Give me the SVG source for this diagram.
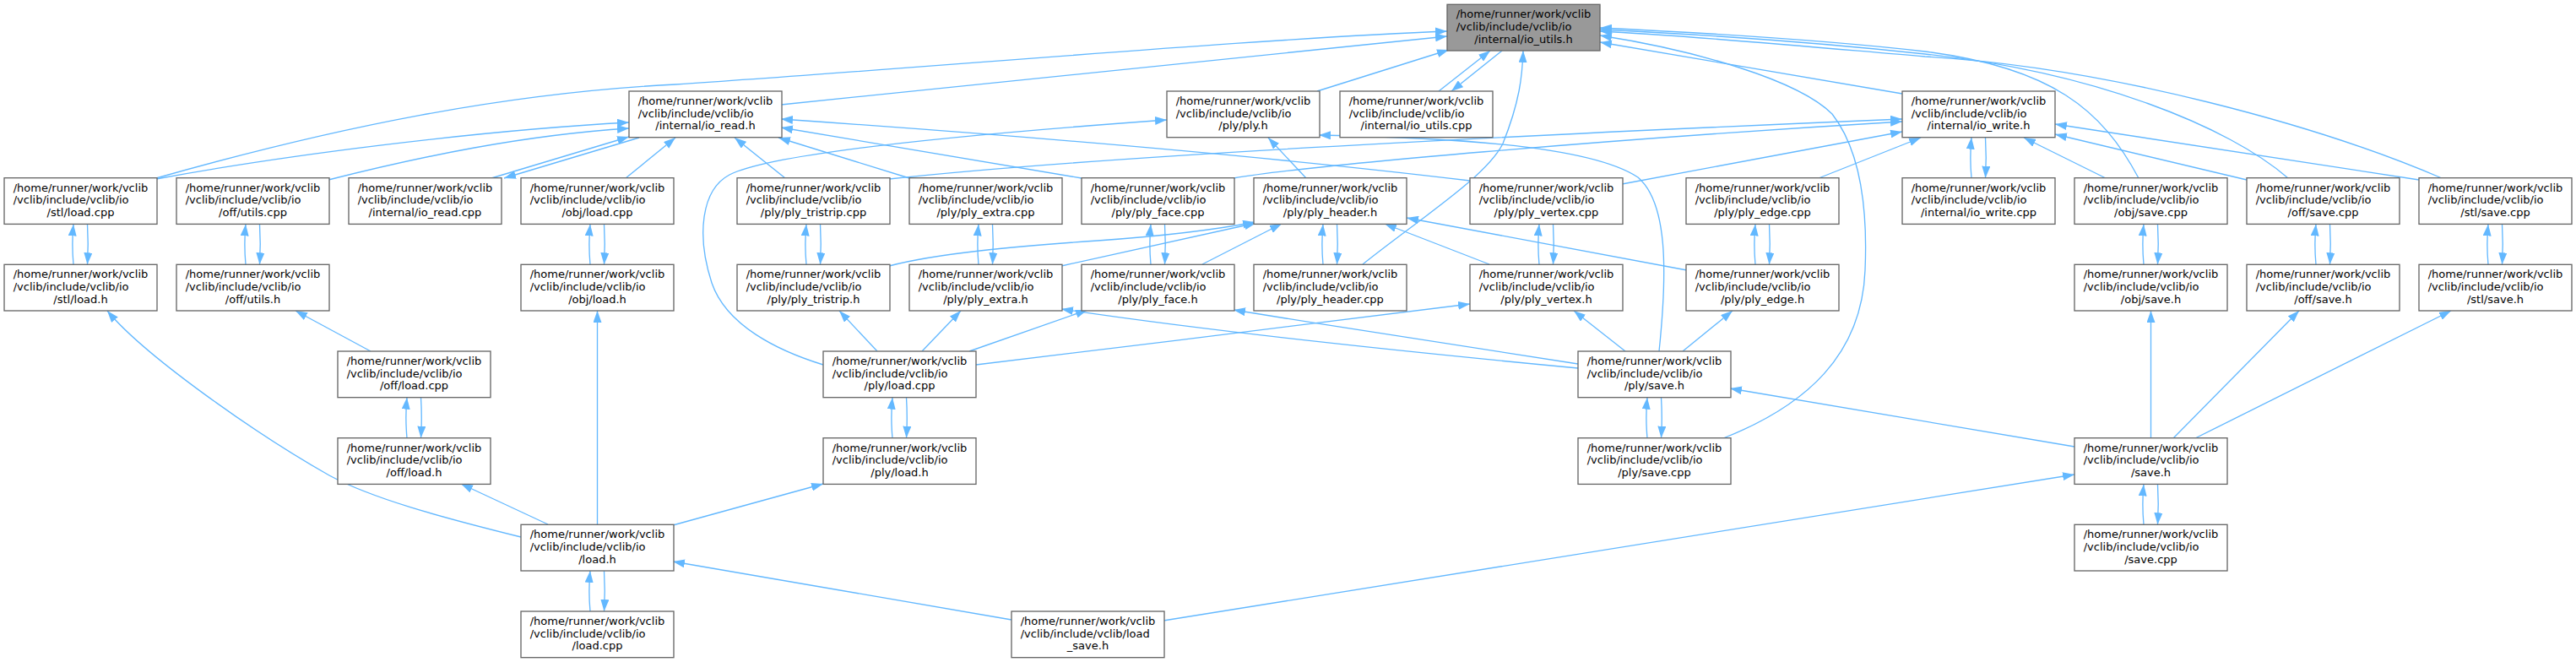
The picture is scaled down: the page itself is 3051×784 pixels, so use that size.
<svg xmlns="http://www.w3.org/2000/svg" width="3051" height="784" viewBox="0 0 3051 784">
<style>
.n rect{fill:#fff;stroke:#666;stroke-width:1.33}
.root rect{fill:#999}
text{font-family:"DejaVu Sans","Liberation Sans",sans-serif;font-size:13px;fill:#000}
.c{text-anchor:middle}
#edges path{fill:none;stroke:#63b8ff;stroke-width:1.33;marker-end:url(#ah)}
</style>
<defs>
<marker id="ah" markerUnits="userSpaceOnUse" markerWidth="14" markerHeight="10" viewBox="0 0 14 10" refX="14" refY="5" orient="auto"><path d="M0,0 L14,5 L0,10 Z" fill="#63b8ff"/></marker>
</defs>
<rect width="3051" height="784" fill="#fff"/>
<g id="edges">
<path d="M185,211 C400,150 600,110 800,100 C1100,80 1500,45 1714,37"/>
<path d="M925,124 L1714,43"/>
<path d="M185,212 C330,185 560,155 745,145"/>
<path d="M389,213 C500,185 620,160 745,152"/>
<path d="M582,211 L745,162"/>
<path d="M757,163 L597,211"/>
<path d="M741,211 L800,163"/>
<path d="M930,211 L870,163"/>
<path d="M1077,211 L922,163"/>
<path d="M1281,211 L925,151"/>
<path d="M1741,214 C1500,185 1200,160 925,141"/>
<path d="M1053,212 C1300,185 1800,160 2253,141"/>
<path d="M1461,211 C1550,196 1900,165 2253,144"/>
<path d="M1921,218 L2253,156"/>
<path d="M2154,211 L2275,163"/>
<path d="M2494,211 L2397,163"/>
<path d="M2661,213 L2434,159"/>
<path d="M2865,213 L2434,147"/>
<path d="M2253,111 L1895,50"/>
<path d="M2533,211 C2490,130 2430,80 2280,61 C2150,46 2000,38 1895,33"/>
<path d="M2710,211 C2640,150 2480,85 2280,64 C2150,50 2000,40 1895,35"/>
<path d="M2892,211 C2750,150 2500,80 2280,67 C2150,56 2000,42 1895,37"/>
<path d="M2041,519 C2140,480 2205,420 2209,320 C2212,250 2205,180 2170,135 C2130,95 2010,60 1895,42"/>
<path d="M1614,313 C1680,260 1760,210 1780,170 C1800,120 1803,90 1804,60"/>
<path d="M1560,108 L1716,59"/>
<path d="M1704,108 L1765,60"/>
<path d="M1779,60 L1719,108"/>
<path d="M1547,211 L1502,163"/>
<path d="M975,432 C920,415 860,385 843,335 C825,280 830,225 864,207 C920,178 1200,155 1382,142"/>
<path d="M1965,416 C1975,320 1975,240 1940,210 C1880,170 1700,163 1562,160"/>
<path d="M1053,315 C1110,300 1200,292 1300,285 C1400,278 1450,270 1486,263"/>
<path d="M1257,315 L1488,264"/>
<path d="M1424,313 L1518,265"/>
<path d="M1764,313 L1640,265"/>
<path d="M1998,320 L1666,258"/>
<path d="M1039,416 L994,368"/>
<path d="M1092,416 L1138,368"/>
<path d="M1148,416 L1288,367"/>
<path d="M1156,432 C1350,408 1550,385 1741,360"/>
<path d="M1869,436 C1700,420 1450,395 1257,366"/>
<path d="M1869,431 C1750,412 1600,390 1461,367"/>
<path d="M1925,416 L1864,368"/>
<path d="M1993,416 L2052,368"/>
<path d="M2457,529 L2049,460"/>
<path d="M1378,735 L2457,562"/>
<path d="M1198,734 L797,665"/>
<path d="M2547.5,518.7 L2547.5,368"/>
<path d="M2574,519 L2723,368"/>
<path d="M2600,519 L2903,368"/>
<path d="M707.5,621.3 L707.5,368"/>
<path d="M649,621 L546,573"/>
<path d="M617,636 C520,612 440,590 390,563 C300,512 170,420 127,368"/>
<path d="M439,416 L350,368"/>
<path d="M797,622 L975,573"/>
<path d="M87,313.3 C85.5,297.3 85.5,281.4 87,265.4"/><path d="M103.5,265.4 C104.5,281.4 104.5,297.3 103.5,313.3"/>
<path d="M291,313.3 C289.5,297.3 289.5,281.4 291,265.4"/><path d="M307.5,265.4 C308.5,281.4 308.5,297.3 307.5,313.3"/>
<path d="M699,313.3 C697.5,297.3 697.5,281.4 699,265.4"/><path d="M715.5,265.4 C716.5,281.4 716.5,297.3 715.5,313.3"/>
<path d="M955,313.3 C953.5,297.3 953.5,281.4 955,265.4"/><path d="M971.5,265.4 C972.5,281.4 972.5,297.3 971.5,313.3"/>
<path d="M1159,313.3 C1157.5,297.3 1157.5,281.4 1159,265.4"/><path d="M1175.5,265.4 C1176.5,281.4 1176.5,297.3 1175.5,313.3"/>
<path d="M1363,313.3 C1361.5,297.3 1361.5,281.4 1363,265.4"/><path d="M1379.5,265.4 C1380.5,281.4 1380.5,297.3 1379.5,313.3"/>
<path d="M1567,313.3 C1565.5,297.3 1565.5,281.4 1567,265.4"/><path d="M1583.5,265.4 C1584.5,281.4 1584.5,297.3 1583.5,313.3"/>
<path d="M1823,313.3 C1821.5,297.3 1821.5,281.4 1823,265.4"/><path d="M1839.5,265.4 C1840.5,281.4 1840.5,297.3 1839.5,313.3"/>
<path d="M2079,313.3 C2077.5,297.3 2077.5,281.4 2079,265.4"/><path d="M2095.5,265.4 C2096.5,281.4 2096.5,297.3 2095.5,313.3"/>
<path d="M2539,313.3 C2537.5,297.3 2537.5,281.4 2539,265.4"/><path d="M2555.5,265.4 C2556.5,281.4 2556.5,297.3 2555.5,313.3"/>
<path d="M2743,313.3 C2741.5,297.3 2741.5,281.4 2743,265.4"/><path d="M2759.5,265.4 C2760.5,281.4 2760.5,297.3 2759.5,313.3"/>
<path d="M2947,313.3 C2945.5,297.3 2945.5,281.4 2947,265.4"/><path d="M2963.5,265.4 C2964.5,281.4 2964.5,297.3 2963.5,313.3"/>
<path d="M2335,210.7 C2333.5,194.7 2333.5,178.7 2335,162.7"/><path d="M2351.5,162.7 C2352.5,178.7 2352.5,194.7 2351.5,210.7"/>
<path d="M482,518.7 C480.5,502.7 480.5,486.7 482,470.7"/><path d="M498.5,470.7 C499.5,486.7 499.5,502.7 498.5,518.7"/>
<path d="M1057,518.7 C1055.5,502.7 1055.5,486.7 1057,470.7"/><path d="M1073.5,470.7 C1074.5,486.7 1074.5,502.7 1073.5,518.7"/>
<path d="M1951,518.7 C1949.5,502.7 1949.5,486.7 1951,470.7"/><path d="M1967.5,470.7 C1968.5,486.7 1968.5,502.7 1967.5,518.7"/>
<path d="M2539,621.3 C2537.5,605.3 2537.5,589.4 2539,573.4"/><path d="M2555.5,573.4 C2556.5,589.4 2556.5,605.3 2555.5,621.3"/>
<path d="M699,724 C697.5,708 697.5,692 699,676"/><path d="M715.5,676 C716.5,692 716.5,708 715.5,724"/>
</g>
<g id="n_io_utils_h" class="n root" transform="translate(1714,5.3)"><rect width="181" height="54.7"/><text x="10.7" y="16">/home/runner/work/vclib</text><text x="10.7" y="30.7">/vclib/include/vclib/io</text><text class="c" x="90.5" y="45.3">/internal/io_utils.h</text></g>
<g id="n_io_read_h" class="n" transform="translate(745,108)"><rect width="181" height="54.7"/><text x="10.7" y="16">/home/runner/work/vclib</text><text x="10.7" y="30.7">/vclib/include/vclib/io</text><text class="c" x="90.5" y="45.3">/internal/io_read.h</text></g>
<g id="n_ply_h" class="n" transform="translate(1382,108)"><rect width="181" height="54.7"/><text x="10.7" y="16">/home/runner/work/vclib</text><text x="10.7" y="30.7">/vclib/include/vclib/io</text><text class="c" x="90.5" y="45.3">/ply/ply.h</text></g>
<g id="n_io_utils_cpp" class="n" transform="translate(1587,108)"><rect width="181" height="54.7"/><text x="10.7" y="16">/home/runner/work/vclib</text><text x="10.7" y="30.7">/vclib/include/vclib/io</text><text class="c" x="90.5" y="45.3">/internal/io_utils.cpp</text></g>
<g id="n_io_write_h" class="n" transform="translate(2253,108)"><rect width="181" height="54.7"/><text x="10.7" y="16">/home/runner/work/vclib</text><text x="10.7" y="30.7">/vclib/include/vclib/io</text><text class="c" x="90.5" y="45.3">/internal/io_write.h</text></g>
<g id="n_stl_load_cpp" class="n" transform="translate(5,210.7)"><rect width="181" height="54.7"/><text x="10.7" y="16">/home/runner/work/vclib</text><text x="10.7" y="30.7">/vclib/include/vclib/io</text><text class="c" x="90.5" y="45.3">/stl/load.cpp</text></g>
<g id="n_off_utils_cpp" class="n" transform="translate(209,210.7)"><rect width="181" height="54.7"/><text x="10.7" y="16">/home/runner/work/vclib</text><text x="10.7" y="30.7">/vclib/include/vclib/io</text><text class="c" x="90.5" y="45.3">/off/utils.cpp</text></g>
<g id="n_io_read_cpp" class="n" transform="translate(413,210.7)"><rect width="181" height="54.7"/><text x="10.7" y="16">/home/runner/work/vclib</text><text x="10.7" y="30.7">/vclib/include/vclib/io</text><text class="c" x="90.5" y="45.3">/internal/io_read.cpp</text></g>
<g id="n_obj_load_cpp" class="n" transform="translate(617,210.7)"><rect width="181" height="54.7"/><text x="10.7" y="16">/home/runner/work/vclib</text><text x="10.7" y="30.7">/vclib/include/vclib/io</text><text class="c" x="90.5" y="45.3">/obj/load.cpp</text></g>
<g id="n_ply_tristrip_cpp" class="n" transform="translate(873,210.7)"><rect width="181" height="54.7"/><text x="10.7" y="16">/home/runner/work/vclib</text><text x="10.7" y="30.7">/vclib/include/vclib/io</text><text class="c" x="90.5" y="45.3">/ply/ply_tristrip.cpp</text></g>
<g id="n_ply_extra_cpp" class="n" transform="translate(1077,210.7)"><rect width="181" height="54.7"/><text x="10.7" y="16">/home/runner/work/vclib</text><text x="10.7" y="30.7">/vclib/include/vclib/io</text><text class="c" x="90.5" y="45.3">/ply/ply_extra.cpp</text></g>
<g id="n_ply_face_cpp" class="n" transform="translate(1281,210.7)"><rect width="181" height="54.7"/><text x="10.7" y="16">/home/runner/work/vclib</text><text x="10.7" y="30.7">/vclib/include/vclib/io</text><text class="c" x="90.5" y="45.3">/ply/ply_face.cpp</text></g>
<g id="n_ply_header_h" class="n" transform="translate(1485,210.7)"><rect width="181" height="54.7"/><text x="10.7" y="16">/home/runner/work/vclib</text><text x="10.7" y="30.7">/vclib/include/vclib/io</text><text class="c" x="90.5" y="45.3">/ply/ply_header.h</text></g>
<g id="n_ply_vertex_cpp" class="n" transform="translate(1741,210.7)"><rect width="181" height="54.7"/><text x="10.7" y="16">/home/runner/work/vclib</text><text x="10.7" y="30.7">/vclib/include/vclib/io</text><text class="c" x="90.5" y="45.3">/ply/ply_vertex.cpp</text></g>
<g id="n_ply_edge_cpp" class="n" transform="translate(1997,210.7)"><rect width="181" height="54.7"/><text x="10.7" y="16">/home/runner/work/vclib</text><text x="10.7" y="30.7">/vclib/include/vclib/io</text><text class="c" x="90.5" y="45.3">/ply/ply_edge.cpp</text></g>
<g id="n_io_write_cpp" class="n" transform="translate(2253,210.7)"><rect width="181" height="54.7"/><text x="10.7" y="16">/home/runner/work/vclib</text><text x="10.7" y="30.7">/vclib/include/vclib/io</text><text class="c" x="90.5" y="45.3">/internal/io_write.cpp</text></g>
<g id="n_obj_save_cpp" class="n" transform="translate(2457,210.7)"><rect width="181" height="54.7"/><text x="10.7" y="16">/home/runner/work/vclib</text><text x="10.7" y="30.7">/vclib/include/vclib/io</text><text class="c" x="90.5" y="45.3">/obj/save.cpp</text></g>
<g id="n_off_save_cpp" class="n" transform="translate(2661,210.7)"><rect width="181" height="54.7"/><text x="10.7" y="16">/home/runner/work/vclib</text><text x="10.7" y="30.7">/vclib/include/vclib/io</text><text class="c" x="90.5" y="45.3">/off/save.cpp</text></g>
<g id="n_stl_save_cpp" class="n" transform="translate(2865,210.7)"><rect width="181" height="54.7"/><text x="10.7" y="16">/home/runner/work/vclib</text><text x="10.7" y="30.7">/vclib/include/vclib/io</text><text class="c" x="90.5" y="45.3">/stl/save.cpp</text></g>
<g id="n_stl_load_h" class="n" transform="translate(5,313.3)"><rect width="181" height="54.7"/><text x="10.7" y="16">/home/runner/work/vclib</text><text x="10.7" y="30.7">/vclib/include/vclib/io</text><text class="c" x="90.5" y="45.3">/stl/load.h</text></g>
<g id="n_off_utils_h" class="n" transform="translate(209,313.3)"><rect width="181" height="54.7"/><text x="10.7" y="16">/home/runner/work/vclib</text><text x="10.7" y="30.7">/vclib/include/vclib/io</text><text class="c" x="90.5" y="45.3">/off/utils.h</text></g>
<g id="n_obj_load_h" class="n" transform="translate(617,313.3)"><rect width="181" height="54.7"/><text x="10.7" y="16">/home/runner/work/vclib</text><text x="10.7" y="30.7">/vclib/include/vclib/io</text><text class="c" x="90.5" y="45.3">/obj/load.h</text></g>
<g id="n_ply_tristrip_h" class="n" transform="translate(873,313.3)"><rect width="181" height="54.7"/><text x="10.7" y="16">/home/runner/work/vclib</text><text x="10.7" y="30.7">/vclib/include/vclib/io</text><text class="c" x="90.5" y="45.3">/ply/ply_tristrip.h</text></g>
<g id="n_ply_extra_h" class="n" transform="translate(1077,313.3)"><rect width="181" height="54.7"/><text x="10.7" y="16">/home/runner/work/vclib</text><text x="10.7" y="30.7">/vclib/include/vclib/io</text><text class="c" x="90.5" y="45.3">/ply/ply_extra.h</text></g>
<g id="n_ply_face_h" class="n" transform="translate(1281,313.3)"><rect width="181" height="54.7"/><text x="10.7" y="16">/home/runner/work/vclib</text><text x="10.7" y="30.7">/vclib/include/vclib/io</text><text class="c" x="90.5" y="45.3">/ply/ply_face.h</text></g>
<g id="n_ply_header_cpp" class="n" transform="translate(1485,313.3)"><rect width="181" height="54.7"/><text x="10.7" y="16">/home/runner/work/vclib</text><text x="10.7" y="30.7">/vclib/include/vclib/io</text><text class="c" x="90.5" y="45.3">/ply/ply_header.cpp</text></g>
<g id="n_ply_vertex_h" class="n" transform="translate(1741,313.3)"><rect width="181" height="54.7"/><text x="10.7" y="16">/home/runner/work/vclib</text><text x="10.7" y="30.7">/vclib/include/vclib/io</text><text class="c" x="90.5" y="45.3">/ply/ply_vertex.h</text></g>
<g id="n_ply_edge_h" class="n" transform="translate(1997,313.3)"><rect width="181" height="54.7"/><text x="10.7" y="16">/home/runner/work/vclib</text><text x="10.7" y="30.7">/vclib/include/vclib/io</text><text class="c" x="90.5" y="45.3">/ply/ply_edge.h</text></g>
<g id="n_obj_save_h" class="n" transform="translate(2457,313.3)"><rect width="181" height="54.7"/><text x="10.7" y="16">/home/runner/work/vclib</text><text x="10.7" y="30.7">/vclib/include/vclib/io</text><text class="c" x="90.5" y="45.3">/obj/save.h</text></g>
<g id="n_off_save_h" class="n" transform="translate(2661,313.3)"><rect width="181" height="54.7"/><text x="10.7" y="16">/home/runner/work/vclib</text><text x="10.7" y="30.7">/vclib/include/vclib/io</text><text class="c" x="90.5" y="45.3">/off/save.h</text></g>
<g id="n_stl_save_h" class="n" transform="translate(2865,313.3)"><rect width="181" height="54.7"/><text x="10.7" y="16">/home/runner/work/vclib</text><text x="10.7" y="30.7">/vclib/include/vclib/io</text><text class="c" x="90.5" y="45.3">/stl/save.h</text></g>
<g id="n_off_load_cpp" class="n" transform="translate(400,416)"><rect width="181" height="54.7"/><text x="10.7" y="16">/home/runner/work/vclib</text><text x="10.7" y="30.7">/vclib/include/vclib/io</text><text class="c" x="90.5" y="45.3">/off/load.cpp</text></g>
<g id="n_ply_load_cpp" class="n" transform="translate(975,416)"><rect width="181" height="54.7"/><text x="10.7" y="16">/home/runner/work/vclib</text><text x="10.7" y="30.7">/vclib/include/vclib/io</text><text class="c" x="90.5" y="45.3">/ply/load.cpp</text></g>
<g id="n_ply_save_h" class="n" transform="translate(1869,416)"><rect width="181" height="54.7"/><text x="10.7" y="16">/home/runner/work/vclib</text><text x="10.7" y="30.7">/vclib/include/vclib/io</text><text class="c" x="90.5" y="45.3">/ply/save.h</text></g>
<g id="n_off_load_h" class="n" transform="translate(400,518.7)"><rect width="181" height="54.7"/><text x="10.7" y="16">/home/runner/work/vclib</text><text x="10.7" y="30.7">/vclib/include/vclib/io</text><text class="c" x="90.5" y="45.3">/off/load.h</text></g>
<g id="n_ply_load_h" class="n" transform="translate(975,518.7)"><rect width="181" height="54.7"/><text x="10.7" y="16">/home/runner/work/vclib</text><text x="10.7" y="30.7">/vclib/include/vclib/io</text><text class="c" x="90.5" y="45.3">/ply/load.h</text></g>
<g id="n_ply_save_cpp" class="n" transform="translate(1869,518.7)"><rect width="181" height="54.7"/><text x="10.7" y="16">/home/runner/work/vclib</text><text x="10.7" y="30.7">/vclib/include/vclib/io</text><text class="c" x="90.5" y="45.3">/ply/save.cpp</text></g>
<g id="n_save_h" class="n" transform="translate(2457,518.7)"><rect width="181" height="54.7"/><text x="10.7" y="16">/home/runner/work/vclib</text><text x="10.7" y="30.7">/vclib/include/vclib/io</text><text class="c" x="90.5" y="45.3">/save.h</text></g>
<g id="n_load_h" class="n" transform="translate(617,621.3)"><rect width="181" height="54.7"/><text x="10.7" y="16">/home/runner/work/vclib</text><text x="10.7" y="30.7">/vclib/include/vclib/io</text><text class="c" x="90.5" y="45.3">/load.h</text></g>
<g id="n_save_cpp" class="n" transform="translate(2457,621.3)"><rect width="181" height="54.7"/><text x="10.7" y="16">/home/runner/work/vclib</text><text x="10.7" y="30.7">/vclib/include/vclib/io</text><text class="c" x="90.5" y="45.3">/save.cpp</text></g>
<g id="n_load_cpp" class="n" transform="translate(617,724)"><rect width="181" height="54.7"/><text x="10.7" y="16">/home/runner/work/vclib</text><text x="10.7" y="30.7">/vclib/include/vclib/io</text><text class="c" x="90.5" y="45.3">/load.cpp</text></g>
<g id="n_load_save_h" class="n" transform="translate(1198,724)"><rect width="181" height="54.7"/><text x="10.7" y="16">/home/runner/work/vclib</text><text x="10.7" y="30.7">/vclib/include/vclib/load</text><text class="c" x="90.5" y="45.3">_save.h</text></g>
</svg>
